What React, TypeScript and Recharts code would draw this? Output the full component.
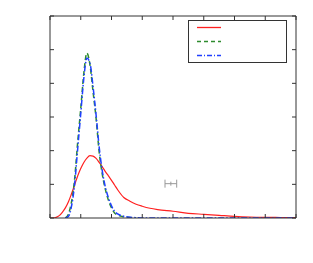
import {
  ComposedChart,
  Line,
  Scatter,
  ErrorBar,
  XAxis,
  YAxis,
  Legend,
} from "recharts";

const xs = [
  0, 0.1, 0.2, 0.3, 0.4, 0.5, 0.6, 0.7, 0.8, 0.9, 1.0, 1.1, 1.2, 1.3, 1.4, 1.5, 1.6, 1.7,
  1.8, 1.9, 2.0, 2.1, 2.2, 2.4, 2.6, 2.8, 3.0, 3.25, 3.5, 4.0, 4.5, 5.0, 5.5, 6.0, 6.5,
  7.0, 7.5, 8.0,
];

const redVals = [
  0, 0, 0.02, 0.07, 0.17, 0.3, 0.48, 0.72, 0.98, 1.25, 1.47, 1.65, 1.78, 1.85, 1.84, 1.77,
  1.65, 1.52, 1.38, 1.25, 1.12, 0.98, 0.84, 0.61, 0.5, 0.41, 0.35, 0.29, 0.25, 0.2, 0.14,
  0.11, 0.08, 0.05, 0.03, 0.02, 0.015, 0.01,
];

const greenVals = [
  null, null, null, null, null, 0, 0.12, 0.48, 1.15, 2.25, 3.25, 4.3, 4.9, 4.55, 3.75,
  2.95, 1.95, 1.3, 0.85, 0.53, 0.3, 0.15, 0.09, 0.04, 0.015, 0, null, null, null, null,
  null, null, null, null, null, null, null, null,
];

const blueVals = [
  null, null, null, null, null, 0, 0.05, 0.35, 1.0, 2.05, 3.1, 4.15, 4.75, 4.6, 3.9, 3.05,
  2.1, 1.4, 0.92, 0.6, 0.36, 0.2, 0.12, 0.05, 0.02, 0.01, 0, 0, 0, 0, 0, 0, 0, 0, 0, 0, 0,
  0,
];

const errPoint = [{ x: 3.93, y: 1.02, err: 0.19 }];

const xTicks = [0, 1, 2, 3, 4, 5, 6, 7, 8];
const yTicks = [0, 1, 2, 3, 4, 5, 6];

const data = xs.map((x, i) => ({
  x,
  red: redVals[i],
  green: greenVals[i],
  blue: blueVals[i],
}));

const legendItems = [
  { color: "#ff2020", dash: undefined },
  { color: "#2e8b2e", dash: "4 3" },
  { color: "#2040ff", dash: "5 2 1 2" },
];

function LegendBox() {
  return (
    <svg width={99} height={43} style={{ display: "block" }}>
      <rect x={0.5} y={0.5} width={98} height={42} fill="#fff" stroke="#333" />
      {legendItems.map((item, i) => (
        <line
          key={i}
          x1={9}
          x2={33}
          y1={7.5 + i * 14}
          y2={7.5 + i * 14}
          stroke={item.color}
          strokeWidth={1.3}
          strokeDasharray={item.dash}
        />
      ))}
    </svg>
  );
}

const axisProps = {
  type: "number" as const,
  tick: () => <g />,
  tickSize: -4,
  stroke: "#333",
  allowDataOverflow: true,
};

export default function App() {
  return (
    <div style={{ position: "absolute", left: 0, top: 0, background: "#fff" }}>
      <ComposedChart
        width={313}
        height={263}
        data={data}
        margin={{ top: 15, right: 16, bottom: 44, left: 49 }}
      >
        <XAxis
          {...axisProps}
          xAxisId="b"
          dataKey="x"
          domain={[0, 8]}
          ticks={xTicks}
          height={1}
        />
        <XAxis
          {...axisProps}
          xAxisId="t"
          orientation="top"
          dataKey="x"
          domain={[0, 8]}
          ticks={xTicks}
          height={1}
        />
        <YAxis {...axisProps} yAxisId="l" domain={[0, 6]} ticks={yTicks} width={1} />
        <YAxis
          {...axisProps}
          yAxisId="r"
          orientation="right"
          domain={[0, 6]}
          ticks={yTicks}
          width={1}
        />
        <Legend
          layout="vertical"
          align="center"
          verticalAlign="middle"
          content={() => <LegendBox />}
          wrapperStyle={{ left: 188, top: 20, width: 99, height: 43 }}
        />
        <Line
          xAxisId="b"
          yAxisId="l"
          dataKey="red"
          type="monotone"
          stroke="#ff2020"
          strokeWidth={1.2}
          dot={false}
          isAnimationActive={false}
        />
        <Line
          xAxisId="b"
          yAxisId="l"
          dataKey="green"
          type="monotone"
          stroke="#2e8b2e"
          strokeWidth={1.5}
          strokeDasharray="5 3"
          dot={false}
          isAnimationActive={false}
        />
        <Line
          xAxisId="b"
          yAxisId="l"
          dataKey="blue"
          type="monotone"
          stroke="#2040ff"
          strokeWidth={1.5}
          strokeDasharray="6 2 1.5 2"
          dot={false}
          isAnimationActive={false}
        />
        <Scatter
          xAxisId="b"
          yAxisId="l"
          data={errPoint}
          dataKey="y"
          isAnimationActive={false}
          shape={(p: any) => (
            <line x1={p.cx} x2={p.cx} y1={p.cy - 2} y2={p.cy + 2} stroke="#999" />
          )}
        >
          <ErrorBar dataKey="err" direction="x" width={4} stroke="#999" strokeWidth={1} />
        </Scatter>
      </ComposedChart>
    </div>
  );
}
